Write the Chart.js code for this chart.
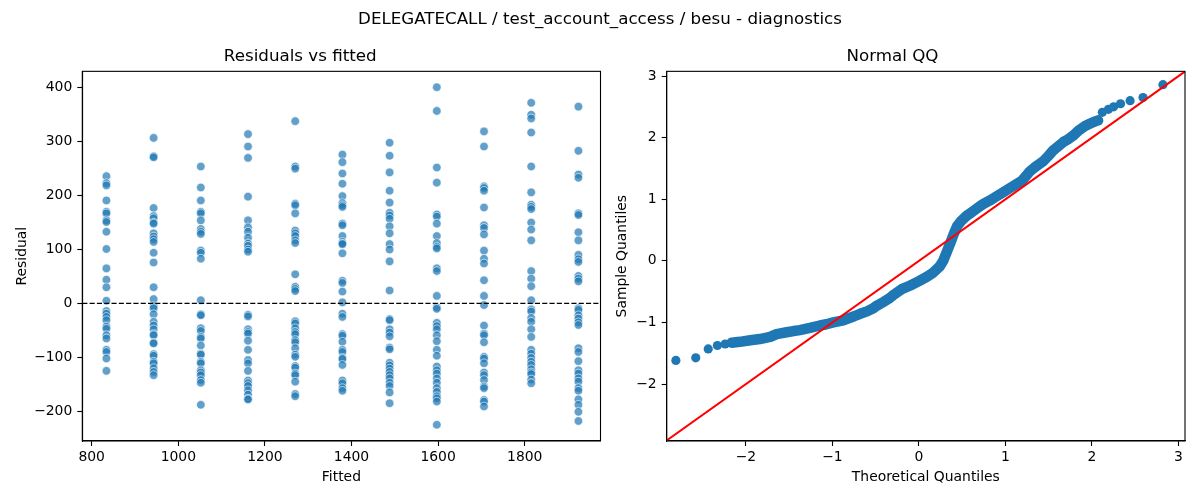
<!DOCTYPE html>
<html><head><meta charset="utf-8">
<script src="https://cdn.jsdelivr.net/npm/chart.js@4.4.0/dist/chart.umd.min.js"></script>
<style>
html,body{margin:0;padding:0;background:#fff;width:1200px;height:500px;overflow:hidden;font-family:'DejaVu Sans',sans-serif;}
#sup{position:absolute;left:0;top:8px;width:1200px;text-align:center;font-size:16.7px;color:#000;line-height:20px;}
#c1{position:absolute;left:0;top:0;}
#c2{position:absolute;left:600px;top:0;}
</style></head><body>
<canvas id="c1" width="683" height="500" style="width:683px;height:500px"></canvas>
<canvas id="c2" width="652" height="500" style="width:652px;height:500px"></canvas>
<div id="sup">DELEGATECALL / test_account_access / besu - diagnostics</div>
<script>
// ---- data: residuals vs fitted ----
const fitted = [834, 943, 1052, 1161, 1270, 1379, 1488, 1597, 1706, 1815, 1924];
const residuals = [
  [236,223,219,191,170,167,154,151,133,101,65,44,30,5,-14,-19,-25,-31,-43,-47,-59,-65,-86,-90,-102,-125],
  [307,273,271,177,162,158,150,148,130,124,119,114,94,76,30,8,-5,-9,-20,-34,-41,-48,-57,-59,-73,-74,-94,-97,-108,-111,-120,-127,-133],
  [254,215,191,170,167,154,138,133,129,98,94,83,6,-20,-22,-46,-51,-62,-65,-78,-93,-95,-108,-111,-124,-128,-133,-142,-147,-188],
  [314,291,270,198,154,141,133,122,111,107,100,96,-21,-24,-48,-53,-56,-69,-86,-105,-111,-125,-143,-148,-153,-161,-169,-177,-178],
  [338,254,250,185,182,167,135,130,125,117,112,54,31,27,23,-33,-37,-46,-53,-57,-68,-72,-83,-95,-99,-116,-119,-130,-133,-145,-168,-172],
  [276,262,241,222,199,186,182,179,148,145,125,114,111,110,93,42,38,22,2,-19,-25,-57,-60,-71,-86,-90,-101,-103,-114,-143,-148,-157,-162],
  [298,274,243,209,187,168,163,157,143,130,110,100,78,24,-29,-31,-48,-54,-61,-82,-85,-110,-115,-121,-127,-133,-139,-147,-153,-165,-185],
  [401,357,252,224,165,161,148,125,112,105,102,65,60,14,-7,-10,-36,-42,-48,-59,-70,-86,-97,-117,-124,-130,-139,-147,-157,-164,-172,-176,-182,-225],
  [319,291,217,214,209,178,145,140,128,98,83,74,43,14,-3,-41,-56,-59,-72,-99,-102,-111,-128,-133,-142,-154,-157,-179,-182,-191],
  [372,350,343,317,254,206,183,179,175,150,137,117,60,46,32,6,-11,-15,-27,-34,-48,-62,-86,-93,-101,-108,-114,-122,-128,-131,-141,-148],
  [365,283,239,233,167,164,132,117,90,82,77,51,46,41,-9,-12,-22,-28,-35,-40,-83,-90,-107,-124,-130,-139,-145,-157,-162,-178,-188,-201,-218]
];
const residXTicks = [800, 1000, 1200, 1400, 1600, 1800];
const residYTicks = [-200, -100, 0, 100, 200, 300, 400];

// ---- data: normal QQ ----
const qqBandX = [-2.165,-2.07,-1.95,-1.84,-1.72,-1.645,-1.53,-1.45,-1.376,-1.26,-1.145,-1.07,-0.99,-0.875,-0.836,-0.75,-0.68,-0.6,-0.528,-0.49,-0.4,-0.335,-0.3,-0.2,-0.1,0.0,0.09,0.165,0.24,0.28,0.32,0.36,0.4,0.44,0.49,0.55,0.61,0.68,0.74,0.82,0.9,0.97,1.05,1.12,1.19,1.24,1.28,1.36,1.44,1.5,1.55,1.61,1.67,1.72,1.78,1.85,1.92,1.98,2.03,2.07];
const qqBandY = [-1.33,-1.315,-1.29,-1.27,-1.235,-1.19,-1.16,-1.14,-1.125,-1.09,-1.05,-1.03,-1.0,-0.965,-0.945,-0.9,-0.86,-0.82,-0.77,-0.73,-0.66,-0.6,-0.56,-0.46,-0.4,-0.33,-0.26,-0.19,-0.09,0.0,0.14,0.28,0.43,0.56,0.65,0.73,0.79,0.86,0.92,0.98,1.05,1.11,1.18,1.24,1.3,1.38,1.45,1.54,1.62,1.71,1.79,1.86,1.93,1.97,2.03,2.12,2.19,2.23,2.26,2.28];
const qqTailX = [-2.81,-2.58,-2.436,-2.33,-2.24,2.12,2.19,2.25,2.33,2.44,2.59,2.82];
const qqTailY = [-1.617,-1.574,-1.43,-1.375,-1.35,2.41,2.46,2.5,2.55,2.6,2.65,2.86];
const qqXTicks = [-2, -1, 0, 1, 2, 3];
const qqYTicks = [-2, -1, 0, 1, 2, 3];

// ---- helpers ----
Chart.defaults.font.family = "'DejaVu Sans', sans-serif";
Chart.defaults.color = '#000';
const minus = v => String(v).replace('-', '\u2212');
const zip = (xs, ys) => xs.map((x, i) => ({x, y: ys[i]}));

const boxPlugin = {id: 'box', afterDraw(chart) {
  const a = chart.chartArea, c = chart.ctx;
  c.save(); c.strokeStyle = '#000'; c.lineWidth = 1.1;
  c.strokeRect(a.left, a.top, a.right - a.left, a.bottom - a.top);
  c.restore();
}};
const zeroLine = {id: 'zeroLine', afterDatasetsDraw(chart) {
  const a = chart.chartArea, c = chart.ctx, y = chart.scales.y.getPixelForValue(0);
  c.save(); c.strokeStyle = '#000'; c.lineWidth = 1.3; c.setLineDash([5.1, 2.2]);
  c.beginPath(); c.moveTo(a.left, y); c.lineTo(a.right, y); c.stroke(); c.restore();
}};
const diagLine = {id: 'diagLine', afterDatasetsDraw(chart) {
  const a = chart.chartArea, c = chart.ctx, sx = chart.scales.x, sy = chart.scales.y;
  const lo = Math.min(sx.min, sy.min), hi = Math.max(sx.max, sy.max);
  c.save(); c.beginPath(); c.rect(a.left, a.top, a.right - a.left, a.bottom - a.top); c.clip();
  c.strokeStyle = '#ff0000'; c.lineWidth = 2;
  c.beginPath(); c.moveTo(sx.getPixelForValue(lo), sy.getPixelForValue(lo));
  c.lineTo(sx.getPixelForValue(hi), sy.getPixelForValue(hi)); c.stroke(); c.restore();
}};

function axis(min, max, ticks, title, isX, fitSize, titlePad) {
  return {
    type: 'linear', min, max,
    afterBuildTicks: s => { s.ticks = ticks.map(v => ({value: v})); },
    afterFit: s => { if (isX) s.height = fitSize; else s.width = fitSize; },
    grid: {drawOnChartArea: false, drawTicks: true, tickLength: 5, tickColor: '#000', tickWidth: 1.1},
    border: {display: true, color: '#000', width: 1.1},
    ticks: {color: '#000', font: {size: 13.9}, padding: isX ? 3 : 5, maxRotation: 0, autoSkip: false,
            callback: v => minus(v)},
    title: {display: true, text: title, color: '#000', font: {size: 13.9},
            padding: isX ? {top: 0, bottom: titlePad} : {top: titlePad, bottom: 0}}
  };
}
function titleOpts(text) {
  return {display: true, text, color: '#000', font: {size: 16.7, weight: 'normal'}, padding: {top: 47, bottom: 4.3}};
}

// ---- left chart ----
const scatterPts = fitted.flatMap((f, i) => residuals[i].map(r => ({x: f, y: r})));
new Chart(document.getElementById('c1'), {
  type: 'scatter',
  data: {datasets: [{data: scatterPts, backgroundColor: 'rgba(31,119,180,0.7)',
    borderColor: 'rgba(255,255,255,0.75)', borderWidth: 0.8, pointRadius: 4.3, pointHoverRadius: 4.3}]},
  options: {
    responsive: false, animation: false, events: [],
    layout: {padding: {left: 0, right: 82.5, top: 0, bottom: 0}},
    plugins: {legend: {display: false}, tooltip: {enabled: false}, title: titleOpts('Residuals vs fitted')},
    scales: {
      x: axis(778.3, 1975, residXTicks, 'Fitted', true, 59, 14.7),
      y: axis(-255.1, 430.4, residYTicks, 'Residual', false, 82.3, 13.7)
    }
  },
  plugins: [boxPlugin, zeroLine]
});

// ---- right chart ----
new Chart(document.getElementById('c2'), {
  type: 'scatter',
  data: {datasets: [
    {data: zip(qqBandX, qqBandY), showLine: true, borderColor: '#1f77b4', borderWidth: 10.5,
     borderCapStyle: 'round', borderJoinStyle: 'round', tension: 0,
     backgroundColor: '#1f77b4', pointRadius: 4.6, pointBorderWidth: 0, pointHoverRadius: 4.6},
    {data: zip(qqTailX, qqTailY), backgroundColor: '#1f77b4', pointRadius: 4.6, pointBorderWidth: 0, pointHoverRadius: 4.6}
  ]},
  options: {
    responsive: false, animation: false, events: [],
    layout: {padding: {left: 0, right: 67, top: 0, bottom: 0}},
    plugins: {legend: {display: false}, tooltip: {enabled: false}, title: titleOpts('Normal QQ')},
    scales: {
      x: axis(-2.916, 3.075, qqXTicks, 'Theoretical Quantiles', true, 59, 14.7),
      y: axis(-2.925, 3.076, qqYTicks, 'Sample Quantiles', false, 66.7, 13.7)
    }
  },
  plugins: [boxPlugin, diagLine]
});
</script>
</body></html>
